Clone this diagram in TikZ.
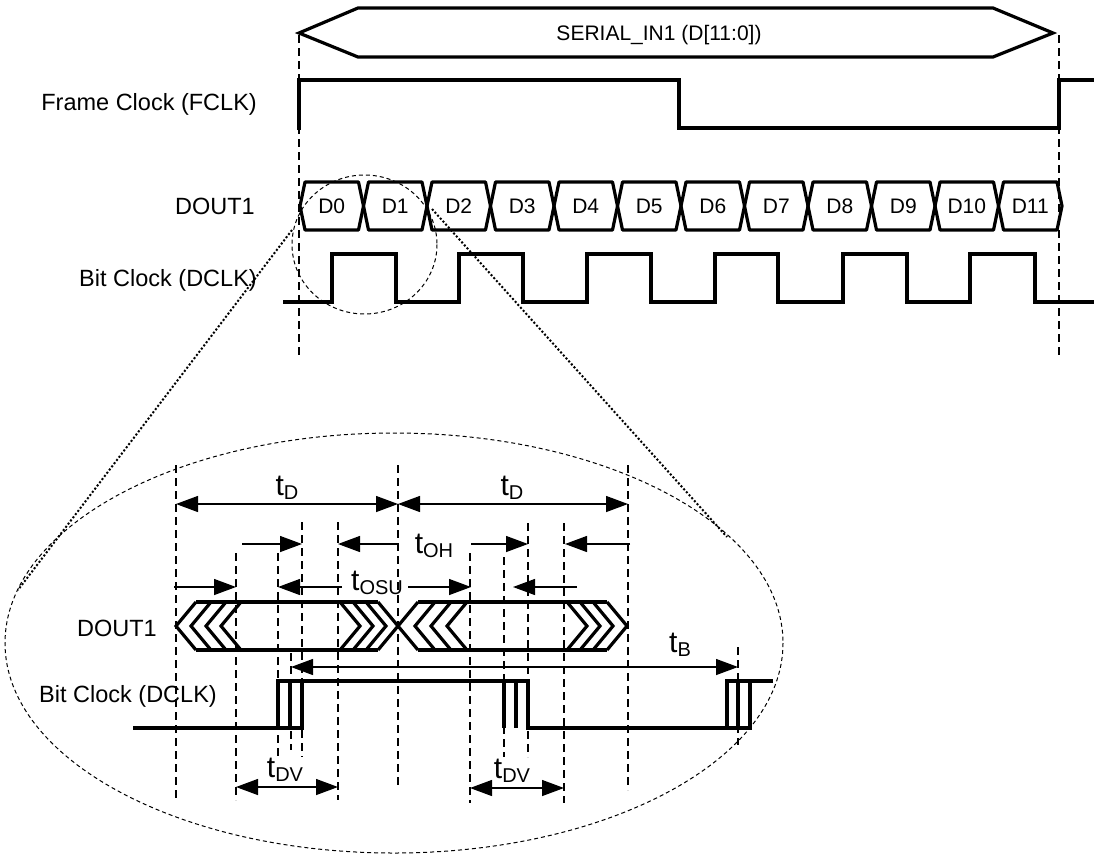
\documentclass[tikz,border=0pt]{standalone}
\usepackage{fontspec}
\setmainfont{Liberation Sans}
\usetikzlibrary{arrows.meta}
\newcommand\tlab[1]{{\fontsize{30}{30}\selectfont t}\raisebox{-4pt}{\fontsize{20}{20}\selectfont #1}}
\begin{document}
\begin{tikzpicture}[x=1pt,y=-1pt,
  wave/.style={line width=3.2pt, line join=miter, line cap=butt},
  hexw/.style={line width=3.2pt, line join=round},
  guide/.style={line width=1.3pt, dash pattern=on 8pt off 5pt},
  thindash/.style={line width=1pt, dash pattern=on 4pt off 3pt},
  zoomline/.style={line width=2pt, dash pattern=on 2pt off 2pt},
  dimarrow/.style={line width=1.3pt, -{Triangle[length=22pt,width=16pt]}},
  dimboth/.style={line width=1.3pt, {Triangle[length=22pt,width=16pt]}-{Triangle[length=22pt,width=16pt]}},
  lbl/.style={font=\fontsize{23.5}{26}\selectfont, inner sep=0pt},
  lblS/.style={font=\fontsize{21}{24}\selectfont, inner sep=0pt},
  tl/.style={inner sep=0pt, anchor=base}
]
\useasboundingbox (0,0) rectangle (1094,854);

% ---------------- top section ----------------
\draw[wave] (299,33) -- (358,8) -- (993,8) -- (1053,33) -- (993,57) -- (358,57) -- cycle;
\node[lblS, anchor=base] (bus) at (659,40) {SERIAL\_IN1 (D[11:0])};

\draw[guide] (299,35) -- (299,355);
\draw[guide] (1059,35) -- (1059,355);

% frame clock
\node[lbl, anchor=base east] (fclk) at (257,110) {Frame Clock (FCLK)};
\draw[wave] (299,130) -- (299,80) -- (679,80) -- (679,128) -- (1059,128) -- (1059,80) -- (1094,80);

% DOUT1
\node[lbl, anchor=base east] (dout) at (255,214) {DOUT1};
\foreach \i in {0,...,11}{
  \pgfmathsetmacro\a{300+63.5*\i}
  \pgfmathsetmacro\b{\a+63.5}
  \pgfmathsetmacro\c{(\a+\b)/2}
  \draw[hexw] (\a,206) -- ({\a+5},182) -- ({\b-5},182) -- (\b,206) -- ({\b-5},230) -- ({\a+5},230) -- cycle;
  \node[lblS, anchor=base] (d\i) at (\c,213) {D\i};
}

% bit clock
\node[lbl, anchor=base east] (dclk) at (257,286) {Bit Clock (DCLK)};
\draw[wave] (283,302) -- (332,302) -- (332,254) -- (396,254) -- (396,302) -- (459,302) -- (459,254) -- (523,254) -- (523,302) -- (587,302) -- (587,254) -- (651,254) -- (651,302) -- (715,302) -- (715,254) -- (778,254) -- (778,302) -- (843,302) -- (843,254) -- (907,254) -- (907,302) -- (970,302) -- (970,254) -- (1035,254) -- (1035,302) -- (1094,302);

% zoom ellipses and lines
\draw[thindash] (364.5,244.5) ellipse [x radius=72.5, y radius=69.5];
\draw[thindash] (394,643) ellipse [x radius=389, y radius=210];
\coordinate (zl1) at (292,230); \coordinate (zl2) at (18,590);
\coordinate (zr1) at (432,209); \coordinate (zr2) at (727,537);
\draw[zoomline] (zl1) -- (zl2);
\draw[zoomline] (zr1) -- (zr2);

% ---------------- lower section ----------------
% guides
\draw[guide] (176,465) -- (176,800);
\draw[guide] (236,553) -- (236,800);
\draw[guide] (278,553) -- (278,757);
\draw[guide] (291,653) -- (291,750);
\draw[guide] (302,522) -- (302,757);
\draw[guide] (338,522) -- (338,800);
\draw[guide] (398,465) -- (398,787);
\draw[guide] (470,553) -- (470,803);
\draw[guide] (504,557) -- (504,757);
\draw[guide] (528,523) -- (528,757);
\draw[guide] (564,523) -- (564,803);
\draw[guide] (628,465) -- (628,790);
\draw[guide] (738,647) -- (738,745);

% labels
\node[lbl, anchor=base east] (dout2) at (157,636) {DOUT1};
\node[lbl, anchor=base east] (dclk2) at (217,702) {Bit Clock (DCLK)};

% DOUT1 zoomed hexagons
\draw[wave] (196,602) -- (378,602);
\draw[wave] (196,650) -- (378,650);
\foreach \t in {176,191,206,221}{
  \draw[wave] ({\t+20},602) -- (\t,626) -- ({\t+20},650);
}
\foreach \t in {360,373,386,398}{
  \draw[wave] ({\t-20},602) -- (\t,626) -- ({\t-20},650);
}
\draw[wave] (418,602) -- (607,602);
\draw[wave] (418,650) -- (607,650);
\foreach \t in {398,415,431,447}{
  \draw[wave] ({\t+20},602) -- (\t,626) -- ({\t+20},650);
}
\foreach \t in {587,600,613,627}{
  \draw[wave] ({\t-20},602) -- (\t,626) -- ({\t-20},650);
}

% zoomed bit clock
\draw[wave] (133,728) -- (302,728) -- (302,681);
\draw[wave] (278,728) -- (278,681) -- (528,681) -- (528,728) -- (752,728);
\draw[wave] (290,681) -- (290,728);
\draw[wave] (504,681) -- (504,728);
\draw[wave] (516,681) -- (516,728);
\draw[wave] (727,728) -- (727,681) -- (773,681);
\draw[wave] (738,681) -- (738,728);
\draw[wave] (750,681) -- (750,728);

% t_D
\coordinate (tdL) at (176,504); \coordinate (tdM) at (398,504); \coordinate (tdR) at (628,504);
\draw[dimboth] (tdL) -- (tdM);
\draw[dimboth] (tdM) -- (tdR);
\node[tl] (labtd1) at (287,495) {\tlab{D}};
\node[tl] (labtd2) at (512,495) {\tlab{D}};

% t_OH row
\coordinate (oh1s) at (242,544); \coordinate (oh1e) at (302,544);
\coordinate (oh2s) at (398,544); \coordinate (oh2e) at (338,544);
\coordinate (oh3s) at (471,544); \coordinate (oh3e) at (528,544);
\coordinate (oh4s) at (630,544); \coordinate (oh4e) at (565,544);
\draw[dimarrow] (oh1s) -- (oh1e);
\draw[dimarrow] (oh2s) -- (oh2e);
\draw[dimarrow] (oh3s) -- (oh3e);
\draw[dimarrow] (oh4s) -- (oh4e);
\node[tl] (laboh) at (434,553) {\tlab{OH}};

% t_OSU row
\coordinate (su1s) at (174,587); \coordinate (su1e) at (236,587);
\coordinate (su2s) at (342,587); \coordinate (su2e) at (278,587);
\coordinate (su3s) at (408,587); \coordinate (su3e) at (471,587);
\coordinate (su4s) at (577,587); \coordinate (su4e) at (513,587);
\draw[dimarrow] (su1s) -- (su1e);
\draw[dimarrow] (su2s) -- (su2e);
\draw[dimarrow] (su3s) -- (su3e);
\draw[dimarrow] (su4s) -- (su4e);
\node[tl] (labsu) at (377,590) {\tlab{OSU}};

% t_B
\coordinate (tbL) at (291,667); \coordinate (tbR) at (738,667);
\draw[dimboth] (tbL) -- (tbR);
\node[tl] (labtb) at (680,652) {\tlab{B}};

% t_DV
\coordinate (dv1L) at (236,787); \coordinate (dv1R) at (338,787);
\coordinate (dv2L) at (470,788); \coordinate (dv2R) at (564,788);
\draw[dimboth] (dv1L) -- (dv1R);
\draw[dimboth] (dv2L) -- (dv2R);
\node[tl] (labdv1) at (285,777) {\tlab{DV}};
\node[tl] (labdv2) at (512,778) {\tlab{DV}};
\end{tikzpicture}
\end{document}
